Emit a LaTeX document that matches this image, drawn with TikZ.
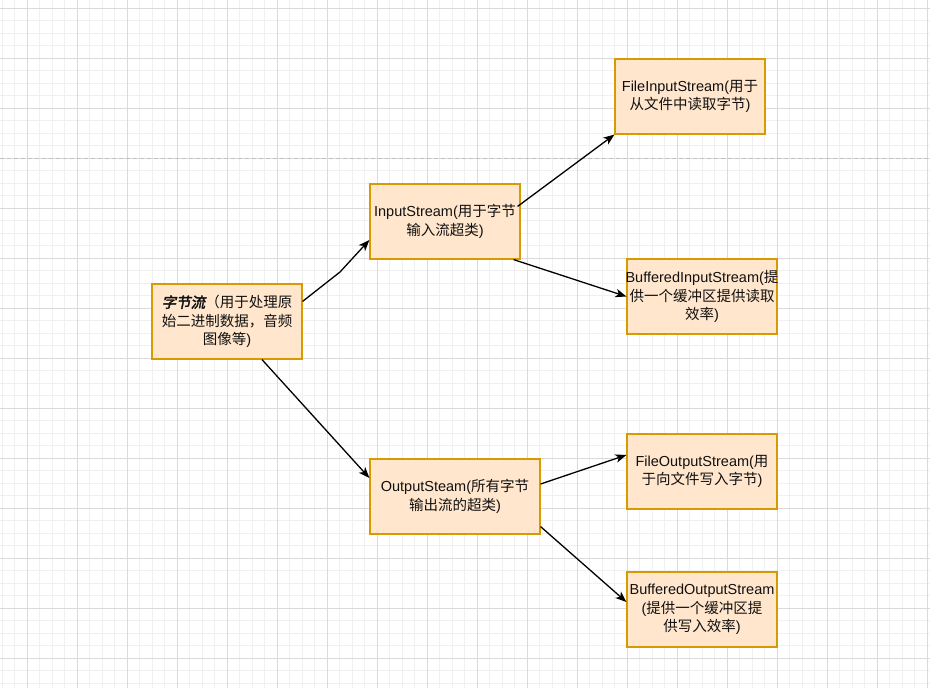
\documentclass[tikz,border=0pt]{standalone}
\usepackage{fontspec}
\setmainfont{Liberation Sans}
\newfontfamily\cjk{Noto Sans CJK SC}
\newfontfamily\cjkbi[FakeSlant=0.2,FakeBold=2.5]{Noto Sans CJK SC}
\newcommand\C[1]{{\cjk #1}}
\newcommand\Z[1]{\makebox[0pt]{#1}}
\usetikzlibrary{arrows.meta}
\definecolor{boxfill}{HTML}{FFE6CC}
\definecolor{boxdraw}{HTML}{D79B00}
\definecolor{gridmajor}{HTML}{DADADA}
\definecolor{gridminor}{HTML}{F0F0F0}
\definecolor{dashcol}{HTML}{C0C0C0}
\definecolor{txt}{HTML}{111111}
\begin{document}
\begin{tikzpicture}[x=1pt,y=-1pt,
  box/.style={draw=boxdraw,fill=boxfill,line width=1.2pt,minimum width=150pt,
    minimum height=75pt,inner sep=0pt,align=center,text=txt,
    font=\fontsize{14.5}{18.5}\selectfont},
  conn/.style={draw=black,line width=1.3pt,
    -{Stealth[length=11pt,width=8.5pt,inset=3pt]}},
  gminor/.style={draw=gridminor,line width=1pt},
  gmajor/.style={draw=gridmajor,line width=1pt},
  sepline/.style={draw=dashcol,line width=1pt,dash pattern=on 4pt off 3pt}]
\useasboundingbox (0,0) rectangle (930,688);
\begin{scope}
\clip (0,0) rectangle (930,688);
\fill[white] (0,0) rectangle (930,688);
\foreach \i in {0,...,74} \draw[gminor] ({2+12.5*\i},0) -- ({2+12.5*\i},688);
\foreach \i in {0,...,55} \draw[gminor] (0,{-4.5+12.5*\i}) -- (930,{-4.5+12.5*\i});
\foreach \i in {0,...,18} \draw[gmajor] ({27+50*\i},0) -- ({27+50*\i},688);
\foreach \i in {0,...,13} \draw[gmajor] (0,{8+50*\i}) -- (930,{8+50*\i});
\draw[sepline] (0,158.5) -- (930,158.5);
\end{scope}

\node[box] (n1) at (227,321.5) {{\cjkbi 字节流}\C{（用于处理原}\\\C{始二进制数据，音频}\\\C{图像等})};
\node[box] (n2) at (445,221.5) {InputStream(\C{用于字节}\\\C{输入流超类})};
\node[box] (n3) at (690,96.5) {FileInputStream(\C{用于}\\\C{从文件中读取字节})};
\node[box] (n4) at (702,296.5) {\Z{BufferedInputStream(\C{提}}\\\Z{\C{供一个缓冲区提供读取}}\\\Z{\C{效率})}};
\node[box,minimum width=170pt] (n5) at (455,496.5) {OutputSteam(\C{所有字节}\\\C{输出流的超类})};
\node[box] (n6) at (702,471.5) {FileOutputStream(\C{用}\\\C{于向文件写入字节})};
\node[box] (n7) at (702,609.5) {\Z{BufferedOutputStream}\\\Z{(\C{提供一个缓冲区提}}\\\Z{\C{供写入效率})}};

\coordinate (s1) at ([yshift=-18pt]n1.north east);
\coordinate (b1) at (340,272);
\coordinate (e1) at ([yshift=-18.5pt]n2.west);
\coordinate (s2) at ([xshift=35pt]n1.south);
\coordinate (e2) at ([yshift=18.5pt]n5.west);
\coordinate (s3) at ([xshift=-3pt,yshift=-23pt]n2.north east);
\coordinate (s4) at ([xshift=-7pt]n2.south east);
\coordinate (s5) at ([yshift=12.5pt]n5.east);
\coordinate (e5) at ([yshift=16.5pt]n6.west);
\coordinate (s6) at ([yshift=8pt]n5.south east);
\coordinate (e6) at ([yshift=7.5pt]n7.west);

\draw[conn] (s1) -- (b1) -- (e1);
\draw[conn] (s2) -- (e2);
\draw[conn] (s3) -- (n3.south west);
\draw[conn] (s4) -- (n4.west);
\draw[conn] (s5) -- (e5);
\draw[conn] (s6) -- (e6);
\end{tikzpicture}
\end{document}
